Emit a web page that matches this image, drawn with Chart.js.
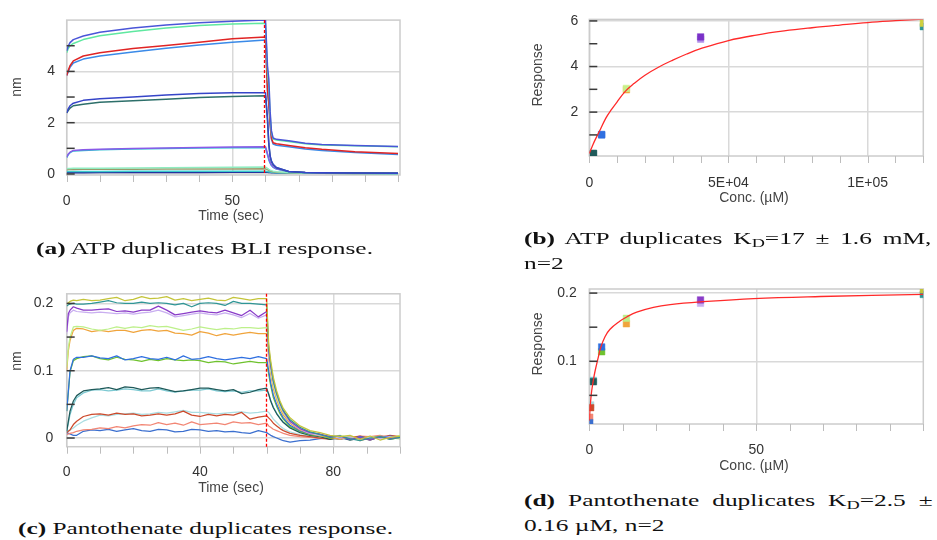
<!DOCTYPE html>
<html><head><meta charset="utf-8">
<script src="https://cdn.jsdelivr.net/npm/chart.js@4.4.1/dist/chart.umd.min.js"></script>
<style>
html,body{margin:0;padding:0;background:#fff;}
body{width:937px;height:540px;position:relative;overflow:hidden;}
canvas{position:absolute;}
.t{position:absolute;font:14px 'Liberation Sans',Arial,sans-serif;color:#444;line-height:14px;white-space:nowrap;transform:translate(-50%,-50%);z-index:4;}
.t.r{transform:translate(-50%,-50%) rotate(-90deg);}
.cap{position:absolute;font-family:'Liberation Serif','Times New Roman',serif;font-size:17.5px;line-height:17.5px;white-space:nowrap;color:#111;transform-origin:0 0;z-index:5;display:inline-block;}
.cap b{font-weight:bold;}
.sub{font-size:0.72em;position:relative;top:0.22em;}
</style></head>
<body>
<canvas id="ca"></canvas><canvas id="cb"></canvas><canvas id="cc"></canvas><canvas id="cd"></canvas>

<div class="t" style="left:231px;top:214.5px">Time (sec)</div>
<div class="t r" style="left:15.5px;top:87px">nm</div>
<div class="t" style="left:754px;top:196.5px">Conc. (µM)</div>
<div class="t r" style="left:537px;top:75px">Response</div>
<div class="t" style="left:231px;top:486.5px">Time (sec)</div>
<div class="t r" style="left:15.8px;top:361px">nm</div>
<div class="t" style="left:754px;top:465px">Conc. (µM)</div>
<div class="t r" style="left:537px;top:344px">Response</div>

<span class="cap" id="capA" style="left:36px;top:240.3px"><b>(a)</b> ATP duplicates BLI response.</span>
<span class="cap" id="capB1" style="left:524.3px;top:230.3px"><b>(b)</b> ATP duplicates K<span class="sub">D</span>=17 ± 1.6 mM,</span>
<span class="cap" id="capB2" style="left:524.3px;top:255.3px">n=2</span>
<span class="cap" id="capC" style="left:18.3px;top:520.3px"><b>(c)</b> Pantothenate duplicates response.</span>
<span class="cap" id="capD1" style="left:524.3px;top:492px"><b>(d)</b> Pantothenate duplicates K<span class="sub">D</span>=2.5 ±</span>
<span class="cap" id="capD2" style="left:524.3px;top:517px">0.16 µM, n=2</span>

<script>
// ---------- Panel (a): ATP BLI sensorgrams ----------
const aTimes = [0,0.5,1,2,5,10,20,30,40,50,60,60.6,61.0,61.4,61.8,62.3,63.3,67,72,77,87,100];
const aBlueTop   = [4.80,5.00,5.12,5.24,5.38,5.53,5.69,5.81,5.90,5.96,6.00,4.22,3.71,2.44,1.68,1.40,1.35,1.30,1.20,1.15,1.11,1.07];
const aGreenTop  = [4.73,4.90,5.00,5.09,5.24,5.39,5.56,5.69,5.79,5.85,5.88,4.00,3.40,2.30,1.60,1.36,1.32,1.27,1.18,1.13,1.10,1.06];
const aRed       = [3.84,4.05,4.22,4.41,4.60,4.73,4.89,5.01,5.14,5.27,5.34,3.30,2.80,2.00,1.40,1.22,1.18,1.11,1.02,0.96,0.87,0.80];
const aLightBlue = [3.84,4.00,4.16,4.33,4.48,4.60,4.76,4.90,5.03,5.14,5.22,3.20,2.70,1.90,1.35,1.17,1.12,1.06,0.97,0.92,0.84,0.76];
const aBlueMid   = [2.38,2.55,2.66,2.76,2.87,2.93,3.00,3.08,3.14,3.17,3.17,2.20,1.20,0.70,0.50,0.38,0.25,0.10,0.06,0.05,0.04,0.03];
const aTealMid   = [2.38,2.48,2.57,2.66,2.72,2.80,2.86,2.91,2.98,3.02,3.05,2.10,1.15,0.68,0.48,0.36,0.24,0.10,0.06,0.05,0.04,0.03];
const aPurple    = [0.66,0.78,0.85,0.92,0.94,0.96,0.99,1.01,1.03,1.05,1.06,0.80,0.60,0.45,0.35,0.28,0.20,0.10,0.06,0.04,0.03,0.03];
const aCyan      = [0.64,0.76,0.83,0.90,0.92,0.94,0.97,0.99,1.01,1.02,1.03,0.75,0.55,0.42,0.33,0.26,0.19,0.09,0.05,0.04,0.03,0.02];
const aGreenLow  = [0.20,0.21,0.21,0.22,0.22,0.22,0.23,0.24,0.25,0.26,0.27,0.22,0.18,0.15,0.13,0.11,0.09,0.06,0.04,0.03,0.03,0.02];
const aOliveLow  = [0.16,0.17,0.17,0.17,0.18,0.18,0.18,0.19,0.19,0.19,0.20,0.17,0.14,0.12,0.10,0.09,0.07,0.05,0.03,0.03,0.02,0.02];
const aCyanLow   = [0.10,0.10,0.10,0.10,0.10,0.10,0.11,0.11,0.11,0.11,0.11,0.10,0.09,0.08,0.07,0.06,0.05,0.04,0.03,0.03,0.02,0.02];
const aNavyLow   = [0.05,0.05,0.05,0.05,0.05,0.06,0.06,0.06,0.06,0.07,0.07,0.07,0.06,0.06,0.05,0.05,0.04,0.04,0.03,0.03,0.03,0.03];
const aXTicks = [0,50], aXTickLabels = ['0','50'];
const aYTicks = [0,2,4], aYTickLabels = ['0','2','4'];
const aXMinor = [0,10,20,30,40,50,60,70,80,90,100];
const aYMinor = [0,1,2,3,4,5];

// ---------- Panel (b): ATP steady-state fit ----------
const bConc = [1481,4444,13333,40000,120000];
const bRep1 = [0.19,1.02,3.04,5.30,5.90];
const bRep2 = [0.18,1.00,2.98,5.20,5.75];
const bFitX = [0,1000,2000,4000,6000,8000,10000,13000,16000,20000,25000,30000,35000,40000,50000,60000,70000,80000,90000,100000,110000,120000];
const bFitY = [0.19,0.48,0.76,1.25,1.75,2.12,2.45,2.92,3.25,3.62,3.98,4.28,4.55,4.78,5.14,5.38,5.56,5.70,5.82,5.93,6.01,6.08];
const bXTicks = [0,50000,100000], bXTickLabels = ['0','5E+04','1E+05'];
const bYTicks = [2,4,6], bYTickLabels = ['2','4','6'];
const bXMinor = [0,10000,20000,30000,40000,50000,60000,70000,80000,90000,100000,110000,120000];
const bYMinor = [1,2,3,4,5,6];

// ---------- Panel (c): Pantothenate BLI sensorgrams ----------
const cTimes = [0,0.5,1,2,3,5, 7.5,10,12.5,15,17.5,20,22.5,25,27.5,30, 32.5,35,37.5,40,42.5,45,47.5,50,52.5,55, 57.5,60,
                60.6,61.2,62,63,64,65,67,70,73,76, 79,82,85,88,91,94,97,100];
const cYellow = [0.199,0.201,0.203,0.205,0.204,0.206, 0.204,0.205,0.207,0.209,0.204,0.206,0.210,0.207,0.208,0.210, 0.205,0.207,0.204,0.206,0.208,0.205,0.204,0.209,0.207,0.205, 0.207,0.207,
                 0.140,0.115,0.090,0.070,0.055,0.044,0.030,0.018,0.011,0.008, 0.004,0.002,0.004,-0.002,0.003,-0.003,0.001,0.003];
const cTeal = [0.196,0.198,0.199,0.200,0.199,0.199, 0.200,0.202,0.204,0.201,0.200,0.200,0.202,0.200,0.201,0.200, 0.198,0.200,0.195,0.200,0.201,0.200,0.197,0.203,0.200,0.200, 0.199,0.198,
               0.135,0.110,0.085,0.066,0.052,0.041,0.027,0.016,0.009,0.005, 0.001,0.003,-0.001,-0.004,0.000,0.002,-0.002,0.001];
const cPurple = [0.158,0.185,0.190,0.195,0.193,0.190, 0.190,0.191,0.192,0.188,0.189,0.187,0.190,0.190,0.196,0.190, 0.183,0.185,0.187,0.189,0.187,0.186,0.190,0.186,0.182,0.190, 0.180,0.188,
                 0.130,0.108,0.085,0.066,0.052,0.040,0.025,0.014,0.008,0.006, 0.002,0.003,-0.002,0.001,-0.003,0.002,-0.001,0.002];
const cLilac = [0.155,0.180,0.186,0.190,0.188,0.187, 0.186,0.187,0.186,0.185,0.186,0.184,0.186,0.187,0.190,0.186, 0.180,0.182,0.184,0.186,0.184,0.183,0.186,0.183,0.179,0.185, 0.178,0.183,
                0.125,0.104,0.082,0.064,0.050,0.039,0.024,0.013,0.007,0.004, 0.003,0.000,0.002,-0.002,0.001,-0.001,0.002,0.000];
const cLime = [0.105,0.135,0.150,0.165,0.166,0.165, 0.162,0.160,0.162,0.165,0.163,0.165,0.164,0.167,0.165,0.166, 0.163,0.160,0.162,0.165,0.163,0.161,0.163,0.162,0.164,0.164, 0.163,0.164,
               0.125,0.100,0.078,0.060,0.047,0.037,0.024,0.014,0.009,0.005, 0.002,0.004,0.000,-0.003,0.002,-0.001,0.000,0.004];
const cOrange = [0.100,0.130,0.145,0.160,0.163,0.162, 0.158,0.160,0.158,0.160,0.160,0.157,0.160,0.161,0.159,0.160, 0.156,0.155,0.153,0.158,0.156,0.152,0.155,0.153,0.155,0.157, 0.155,0.155,
                 0.118,0.095,0.073,0.057,0.044,0.034,0.022,0.012,0.007,0.003, 0.001,-0.002,0.002,-0.004,0.000,0.003,-0.002,0.001];
const cBlue = [0.040,0.070,0.100,0.117,0.120,0.120, 0.122,0.119,0.118,0.122,0.116,0.118,0.121,0.118,0.117,0.120, 0.116,0.122,0.117,0.118,0.121,0.118,0.116,0.118,0.120,0.118, 0.121,0.118,
               0.100,0.082,0.064,0.050,0.039,0.030,0.019,0.011,0.006,0.004, 0.002,0.001,-0.002,0.002,-0.001,0.000,0.003,0.001];
const cGreen = [0.040,0.068,0.098,0.115,0.118,0.121, 0.122,0.118,0.116,0.120,0.117,0.116,0.114,0.117,0.115,0.118, 0.116,0.115,0.116,0.115,0.112,0.114,0.113,0.110,0.112,0.114, 0.112,0.112,
                0.095,0.078,0.060,0.047,0.036,0.028,0.017,0.010,0.005,0.003, 0.000,0.002,-0.001,0.001,-0.003,0.002,0.000,-0.001];
const cDarkTeal = [0.010,0.025,0.040,0.055,0.063,0.070, 0.072,0.073,0.075,0.072,0.076,0.075,0.072,0.074,0.075,0.072, 0.069,0.070,0.072,0.074,0.074,0.072,0.070,0.072,0.066,0.068, 0.072,0.074,
                   0.065,0.055,0.045,0.036,0.029,0.023,0.015,0.008,0.004,0.002, -0.002,0.001,-0.003,0.000,-0.002,0.001,-0.001,0.000];
const cSky = [0.010,0.022,0.035,0.050,0.060,0.067, 0.071,0.072,0.070,0.071,0.073,0.072,0.070,0.070,0.073,0.070, 0.068,0.070,0.071,0.071,0.073,0.070,0.069,0.070,0.068,0.070, 0.070,0.071,
              0.066,0.056,0.046,0.037,0.030,0.024,0.016,0.009,0.005,0.004, 0.001,-0.001,0.002,-0.002,0.000,0.003,0.001,0.002];
const cRust = [0.008,0.010,0.012,0.020,0.025,0.032, 0.035,0.036,0.034,0.037,0.035,0.036,0.033,0.034,0.036,0.034, 0.036,0.040,0.034,0.032,0.035,0.033,0.035,0.034,0.038,0.028, 0.031,0.033,
               0.030,0.027,0.022,0.018,0.014,0.011,0.007,0.004,0.002,0.000, -0.002,0.002,0.000,0.003,-0.001,0.001,0.004,0.002];
const cPaleCyan = [0.010,0.011,0.012,0.015,0.019,0.025, 0.030,0.034,0.033,0.035,0.036,0.037,0.035,0.036,0.038,0.037, 0.039,0.041,0.038,0.038,0.037,0.036,0.037,0.038,0.039,0.037, 0.038,0.040,
                   0.038,0.034,0.028,0.023,0.018,0.014,0.009,0.005,0.002,0.001, -0.001,0.000,0.002,-0.002,0.001,0.000,0.002,0.001];
const cSalmon = [0.005,0.006,0.007,0.008,0.010,0.012, 0.013,0.015,0.014,0.017,0.015,0.018,0.020,0.019,0.023,0.020, 0.022,0.019,0.024,0.020,0.021,0.022,0.020,0.024,0.022,0.023, 0.020,0.022,
                 0.018,0.016,0.013,0.011,0.009,0.007,0.004,0.002,0.001,0.000, 0.002,-0.001,0.001,0.003,0.002,0.004,0.001,0.003];
const cBlueLow = [0.008,0.007,0.006,0.004,0.004,0.010, 0.012,0.011,0.013,0.010,0.012,0.014,0.011,0.010,0.013,0.012, 0.009,0.010,0.013,0.012,0.010,0.011,0.009,0.010,0.008,0.007, 0.011,0.008,
                  0.006,0.004,0.002,0.000,-0.002,-0.004,-0.006,-0.004,-0.003,-0.001, 0.000,-0.002,0.001,-0.001,0.000,0.002,-0.001,0.001];
const cXTicks = [0,40,80], cXTickLabels = ['0','40','80'];
const cYTicks = [0,0.1,0.2], cYTickLabels = ['0','0.1','0.2'];
const cXMinor = [0,10,20,30,40,50,60,70,80,90,100];
const cYMinor = [0,0.05,0.1,0.15,0.2];

// ---------- Panel (d): Pantothenate steady-state fit ----------
const dConc = [0.137,0.41,1.23,3.7,11.1,33.3,100];
const dRep1 = [0.010,0.032,0.070,0.121,0.163,0.190,0.205];
const dRep2 = [0.018,0.036,0.072,0.114,0.155,0.185,0.198];
const dFitX = [0,0.2,0.5,0.7,1.2,1.7,2.7,3.4,4.7,6.2,9.2,11.2,14.2,19.2,24.2,33.2,49.2,69.2,100];
const dFitY = [0.013,0.030,0.047,0.056,0.072,0.085,0.106,0.120,0.136,0.147,0.159,0.165,0.172,0.179,0.183,0.187,0.192,0.195,0.198];
const dXTicks = [0,50], dXTickLabels = ['0','50'];
const dYTicks = [0.1,0.2], dYTickLabels = ['0.1','0.2'];
const dXMinor = [0,10,20,30,40,50,60,70,80,90,100];
const dYMinor = [0.05,0.1,0.15,0.2];

// ---------- styles ----------
const aColors = ['#4a55d8','#5fe8a0','#e02424','#3a8ae8','#3645c8','#2d6f6a','#8a5ae8','#2cbfd0','#90ecc0','#9a9a6a','#3ccccc','#23339e'];
const cColors = ['#c4c43a','#2f9696','#8a3cc8','#c9aef0','#bdf08a','#f0a43c','#2f6fe0','#6fc22e','#1f5a5a','#7cc9d2','#cc4a2c','#aadde2','#f28674','#3b6fcf'];
const bColors1 = ['#1f5a5a','#2f6fe0','#c8f08a','#7a30c8','#d0d040'];
const bColors2 = ['#1f5a5a','#2f6fe0','#f0a43c','#b090e8','#2f9696'];
const dColors1 = ['#3b6fcf','#cc4a2c','#1f5a5a','#2f6fe0','#bdf08a','#8a3cc8','#c4c43a'];
const dColors2 = ['#f28674','#aadde2','#7cc9d2','#6fc22e','#f0a43c','#c9aef0','#2f9696'];
const markerRed = 'rgb(255,0,0)';

Chart.defaults.font.family = "'Liberation Sans', Arial, sans-serif";
Chart.defaults.font.size = 14;

const pts = (xs, ys) => xs.map((x, i) => ({x, y: ys[i]}));
const lineDs = (xs, ys, color, w, tension) => ({data: pts(xs, ys), borderColor: color, borderWidth: w, pointRadius: 0, tension: tension || 0, fill: false, borderJoinStyle: 'round'});
const pointDs = (xs, ys, colors) => ({data: pts(xs, ys), showLine: false, pointStyle: 'rect', pointRadius: 4.6, pointBackgroundColor: colors, pointBorderColor: colors, pointBorderWidth: 0.5});

const decor = {
  id: 'decor',
  beforeDatasetsDraw(chart) {
    const {ctx, chartArea: a} = chart;
    ctx.save();
    ctx.strokeStyle = '#cccccc'; ctx.lineWidth = 1.5;
    ctx.strokeRect(a.left, a.top, a.right - a.left, a.bottom - a.top);
    ctx.restore();
  },
  afterDraw(chart) {
    const o = chart.$decor;
    const {ctx, chartArea: a, scales: {x, y}} = chart;
    ctx.save();
    ctx.setLineDash([]);
    ctx.strokeStyle = '#bdbdbd'; ctx.lineWidth = 1;
    for (const v of o.xMinor) {
      const p = Math.round(x.getPixelForValue(v)) + 0.5;
      ctx.beginPath(); ctx.moveTo(p, a.bottom); ctx.lineTo(p, a.bottom + 7); ctx.stroke();
    }
    ctx.strokeStyle = '#3a3a3a'; ctx.lineWidth = 1.5;
    for (const v of o.yMinor) {
      const p = y.getPixelForValue(v);
      if (p < a.top - 1 || p > a.bottom + 1) continue;
      ctx.beginPath(); ctx.moveTo(a.left, p); ctx.lineTo(a.left + 8, p); ctx.stroke();
    }
    if (o.vline != null) {
      const p = Math.round(x.getPixelForValue(o.vline)) - 0.5;
      ctx.strokeStyle = markerRed; ctx.lineWidth = 1.3; ctx.setLineDash([3, 2]);
      ctx.beginPath(); ctx.moveTo(p, a.top); ctx.lineTo(p, a.bottom); ctx.stroke();
    }
    ctx.restore();
  }
};

function panel(id, box, area, xs, ys, datasets, deco) {
  const cv = document.getElementById(id);
  cv.width = box.w; cv.height = box.h;
  cv.style.left = box.x + 'px'; cv.style.top = box.y + 'px';
  const padTop = area.t - box.y, padRight = box.x + box.w - area.r;
  const yW = area.l - box.x, xH = box.y + box.h - area.b;
  return new Chart(cv, {
    type: 'line',
    data: {datasets},
    options: {
      responsive: false, animation: false, devicePixelRatio: 1, events: [],
      layout: {padding: {top: padTop, right: padRight, left: 0, bottom: 0}},
      plugins: {legend: {display: false}, tooltip: {enabled: false}},
      scales: {
        x: {type: 'linear', min: xs.min, max: xs.max,
            afterFit: s => { s.height = xH; },
            afterBuildTicks: s => { s.ticks = xs.ticks.map(v => ({value: v})); },
            ticks: {autoSkip: false, maxRotation: 0, padding: xs.pad, color: '#333', callback: (v, i) => xs.labels[i]},
            grid: {color: '#d9d9d9', lineWidth: 1.5, drawTicks: false},
            border: {display: false}},
        y: {type: 'linear', min: ys.min, max: ys.max,
            afterFit: s => { s.width = yW; },
            afterBuildTicks: s => { s.ticks = ys.ticks.map(v => ({value: v})); },
            ticks: {autoSkip: false, padding: ys.pad, color: '#333', callback: (v, i) => ys.labels[i]},
            grid: {color: '#d9d9d9', lineWidth: 1.5, drawTicks: false},
            border: {display: false}}
      }
    },
    plugins: [{id: 'setdeco', beforeInit(c) { c.$decor = deco; }}, decor]
  });
}

// Panel a
const aSeries = [aBlueTop, aGreenTop, aRed, aLightBlue, aBlueMid, aTealMid, aPurple, aCyan, aGreenLow, aOliveLow, aCyanLow, aNavyLow];
panel('ca', {x: 0, y: 0, w: 410, h: 230}, {l: 66.7, t: 15.7, r: 400, b: 175},
  {min: 0, max: 100.6, ticks: aXTicks, labels: aXTickLabels, pad: 17.8},
  {min: -0.04, max: 6.0, ticks: aYTicks, labels: aYTickLabels, pad: 11.7},
  aSeries.map((s, i) => lineDs(aTimes, s, aColors[i], 1.5)),
  {xMinor: aXMinor, yMinor: aYMinor, vline: 60});

// Panel b (first dataset is drawn on top)
panel('cb', {x: 500, y: 0, w: 437, h: 215}, {l: 589.3, t: 12.7, r: 923.3, b: 156},
  {min: 0, max: 120000, ticks: bXTicks, labels: bXTickLabels, pad: 18.6},
  {min: 0.075, max: 6.067, ticks: bYTicks, labels: bYTickLabels, pad: 11},
  [lineDs(bFitX, bFitY, '#ff2a2a', 1.3, 0.4), pointDs(bConc, bRep1, bColors1), pointDs(bConc, bRep2, bColors2)],
  {xMinor: bXMinor, yMinor: bYMinor, vline: null});

// Panel c
const cSeries = [cYellow, cTeal, cPurple, cLilac, cLime, cOrange, cBlue, cGreen, cDarkTeal, cSky, cRust, cPaleCyan, cSalmon, cBlueLow];
panel('cc', {x: 0, y: 272, w: 410, h: 225}, {l: 66.7, t: 288.3, r: 400, b: 446.7},
  {min: 0, max: 100, ticks: cXTicks, labels: cXTickLabels, pad: 17.4},
  {min: -0.0129, max: 0.2143, ticks: cYTicks, labels: cYTickLabels, pad: 13.4},
  cSeries.map((s, i) => lineDs(cTimes, s, cColors[i], 1.25)),
  {xMinor: cXMinor, yMinor: cYMinor, vline: 60});

// Panel d
panel('cd', {x: 500, y: 268, w: 437, h: 210}, {l: 589.3, t: 284, r: 923.3, b: 424},
  {min: 0, max: 100, ticks: dXTicks, labels: dXTickLabels, pad: 17.6},
  {min: 0.008, max: 0.206, ticks: dYTicks, labels: dYTickLabels, pad: 12.6},
  [lineDs(dFitX, dFitY, '#ff2a2a', 1.3, 0.4), pointDs(dConc, dRep1, dColors1), pointDs(dConc, dRep2, dColors2)],
  {xMinor: dXMinor, yMinor: dYMinor, vline: null});

// ---------- captions: stretch to the reference widths ----------
function w(el) { return el.getBoundingClientRect().width; }
const capA = document.getElementById('capA');
const s = 337 / w(capA);
capA.style.transform = `scaleX(${s})`;
const capC = document.getElementById('capC');
capC.style.transform = `scaleX(${375 / w(capC)})`;
function justify(id, W) {
  const el = document.getElementById(id);
  const ns = (el.textContent.match(/ /g) || []).length;
  const w0 = w(el);
  el.style.wordSpacing = ((W / s - w0) / ns) + 'px';
  el.style.transform = `scaleX(${s})`;
}
justify('capB1', 407.4);
justify('capD1', 408.7);
document.getElementById('capB2').style.transform = `scaleX(${s})`;
document.getElementById('capD2').style.transform = `scaleX(${s})`;
</script>
</body></html>
